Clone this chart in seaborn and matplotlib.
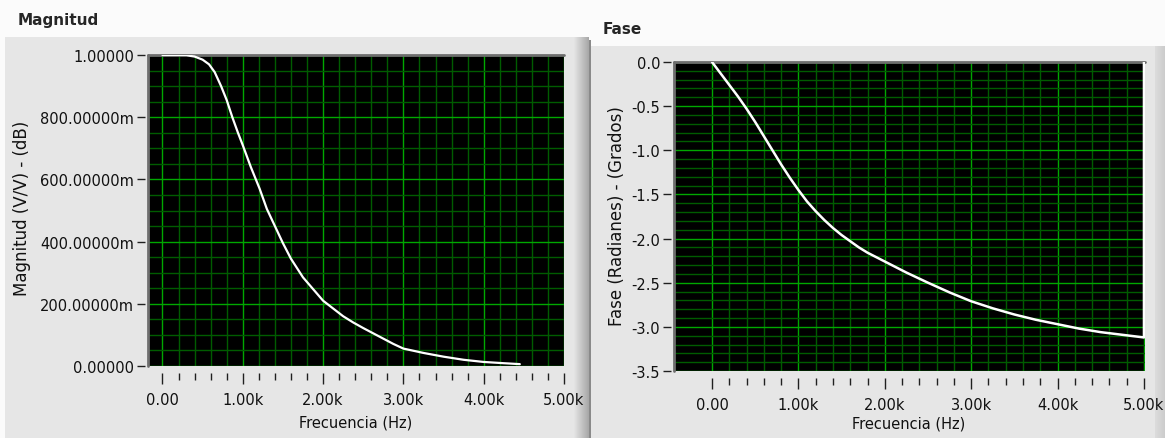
import numpy as np
import pandas as pd
import matplotlib
matplotlib.use("Agg")
import matplotlib.pyplot as plt
from matplotlib.patches import Rectangle
from matplotlib.lines import Line2D
from matplotlib.ticker import FixedLocator
import seaborn as sns

# Magnitude response (V/V) against frequency (Hz)
freq_mag = [0, 100, 200, 300, 350, 400, 450, 500, 580, 650, 730, 800, 870, 940, 1000,
            1100, 1210, 1300, 1400, 1500, 1600, 1750, 1900, 2000, 2125, 2250, 2375,
            2500, 2625, 2750, 2875, 3000, 3250, 3500, 3750, 4000, 4250, 4450]
magnitude = [1.0, 1.0, 1.0, 1.0, 0.997, 0.995, 0.99, 0.985, 0.97, 0.945, 0.90, 0.855, 0.80,
             0.75, 0.71, 0.64, 0.57, 0.505, 0.45, 0.395, 0.345, 0.285, 0.24, 0.21, 0.185,
             0.16, 0.14, 0.122, 0.105, 0.088, 0.071, 0.056, 0.042, 0.03, 0.02, 0.013,
             0.009, 0.006]

# Phase response (rad) against frequency (Hz); wraps at the last sample
freq_phase = [0, 100, 200, 300, 400, 500, 600, 700, 800, 900, 1000, 1100, 1200, 1300,
              1400, 1500, 1600, 1700, 1800, 1900, 2000, 2250, 2500, 2750, 3000, 3250,
              3500, 3750, 4000, 4250, 4500, 4750, 5000, 5000]
phase = [0.0, -0.13, -0.26, -0.39, -0.53, -0.68, -0.84, -1.0, -1.16, -1.31, -1.45, -1.58,
         -1.69, -1.79, -1.88, -1.96, -2.03, -2.1, -2.16, -2.21, -2.26, -2.385, -2.5, -2.61,
         -2.71, -2.79, -2.86, -2.92, -2.97, -3.02, -3.06, -3.09, -3.12, 3.14]

x_ticks = [0, 1000, 2000, 3000, 4000, 5000]
x_tick_labels = ["0.00", "1.00k", "2.00k", "3.00k", "4.00k", "5.00k"]
mag_ticks = [0.0, 0.2, 0.4, 0.6, 0.8, 1.0]
mag_tick_labels = ["0.00000", "200.00000m", "400.00000m", "600.00000m", "800.00000m", "1.00000"]
phase_ticks = [0.0, -0.5, -1.0, -1.5, -2.0, -2.5, -3.0, -3.5]
phase_tick_labels = ["0.0", "-0.5", "-1.0", "-1.5", "-2.0", "-2.5", "-3.0", "-3.5"]

mag_df = pd.DataFrame({"Frecuencia": freq_mag, "Magnitud": magnitude})
phase_df = pd.DataFrame({"Frecuencia": freq_phase, "Fase": phase})

sns.set_style("white")
plt.rcParams["font.family"] = ["DejaVu Sans"]

W, H = 1165, 439
fig = plt.figure(figsize=(W / 100, H / 100), dpi=100, facecolor="#fbfbfb")


def fig_rect(x0, y0, x1, y1):
    return [x0 / W, 1 - y1 / H, (x1 - x0) / W, (y1 - y0) / H]


def block(x0, y0, x1, y1, color):
    l, b, w, h = fig_rect(x0, y0, x1, y1)
    fig.patches.append(Rectangle((l, b), w, h, transform=fig.transFigure,
                                 facecolor=color, edgecolor="none", zorder=-5))


# Control panels behind each graph
block(5, 38, 574, H, "#e6e6e6")
for i, shade in enumerate(np.linspace(0.89, 0.66, 15)):
    block(574 + i, 38, 575 + i, H, str(shade))
block(589, 41, 591, H, "#8a8a8a")
block(591, 47, 1155, H, "#e6e6e6")
for i, shade in enumerate(np.linspace(0.86, 0.80, 10)):
    block(1155 + i, 47, 1156 + i, H, str(shade))

ax1 = fig.add_axes(fig_rect(148, 56, 564, 367))
ax2 = fig.add_axes(fig_rect(674, 63, 1145, 372))
for ax in (ax1, ax2):
    ax.set_zorder(5)


def style(ax, xlim, ylim, yticks, ylabels, yminor_step):
    ax.set_facecolor("black")
    ax.set_xlim(*xlim)
    ax.set_ylim(*ylim)
    ax.xaxis.set_major_locator(FixedLocator(x_ticks))
    ax.set_xticklabels(x_tick_labels)
    ax.xaxis.set_minor_locator(FixedLocator([v for v in range(200, 5000, 200) if v % 1000]))
    ax.yaxis.set_major_locator(FixedLocator(yticks))
    ax.set_yticklabels(ylabels)
    lo, hi = sorted(ylim)
    ymin_ticks = np.round(np.arange(lo, hi + 1e-9, yminor_step), 4)
    ax.yaxis.set_minor_locator(FixedLocator([v for v in ymin_ticks
                                             if not np.any(np.isclose(v, yticks))]))
    ax.grid(which="major", color="#00a800", lw=1.0)
    ax.grid(which="minor", color="#005c00", lw=1.0)
    ax.set_axisbelow(True)
    for s in ax.spines.values():
        s.set_visible(False)
    ax.spines["bottom"].set_position(("outward", 5))
    ax.spines["left"].set_position(("outward", 2))
    ax.tick_params(bottom=True, left=True, which="both")
    ax.tick_params(axis="x", which="major", direction="out", length=8, width=1,
                   color="#202020", pad=6, labelsize=10.5, labelcolor="#111111")
    ax.tick_params(axis="x", which="minor", direction="out", length=5, width=1, color="#202020")
    ax.tick_params(axis="y", which="major", direction="out", length=6, width=1,
                   color="#202020", pad=2, labelsize=10.5, labelcolor="#111111")
    ax.tick_params(axis="y", which="minor", length=0)
    # inset frame: dark edges on top and left only
    for xs, ys in (([0, 1], [1, 1]), ([0, 0], [0, 1])):
        ax.add_artist(Line2D(xs, ys, transform=ax.transAxes, color="#6e6e6e",
                             lw=2.0, zorder=4, clip_on=False))
    ax.set_xlabel("")
    ax.set_ylabel("")


sns.lineplot(data=mag_df, x="Frecuencia", y="Magnitud", ax=ax1, color="white",
             lw=1.6, estimator=None, sort=False, zorder=8)
sns.lineplot(data=phase_df, x="Frecuencia", y="Fase", ax=ax2, color="white",
             lw=1.8, estimator=None, sort=False, zorder=8)

style(ax1, (-180, 5000), (0.0, 1.0), mag_ticks, mag_tick_labels, 0.05)
# small margin past 5 kHz keeps the phase wrap at the last sample inside the plot area
style(ax2, (-440, 5012), (-3.5, 0.0), phase_ticks, phase_tick_labels, 0.1)

fig.text(18 / W, 1 - 21 / H, "Magnitud", fontsize=11, fontweight="bold", va="center", ha="left")
fig.text(603 / W, 1 - 29 / H, "Fase", fontsize=11, fontweight="bold", va="center", ha="left")

fig.text(356 / W, 1 - 423 / H, "Frecuencia (Hz)", fontsize=10.5, ha="center", va="center", color="#111111")
fig.text(909 / W, 1 - 424 / H, "Frecuencia (Hz)", fontsize=10.5, ha="center", va="center", color="#111111")
fig.text(22 / W, 1 - 208 / H, "Magnitud (V/V) - (dB)", fontsize=12, rotation=90,
         ha="center", va="center", color="#111111")
fig.text(617 / W, 1 - 216 / H, "Fase (Radianes) - (Grados)", fontsize=12, rotation=90,
         ha="center", va="center", color="#111111")

fig.savefig("out.png", dpi=100, facecolor=fig.get_facecolor())
